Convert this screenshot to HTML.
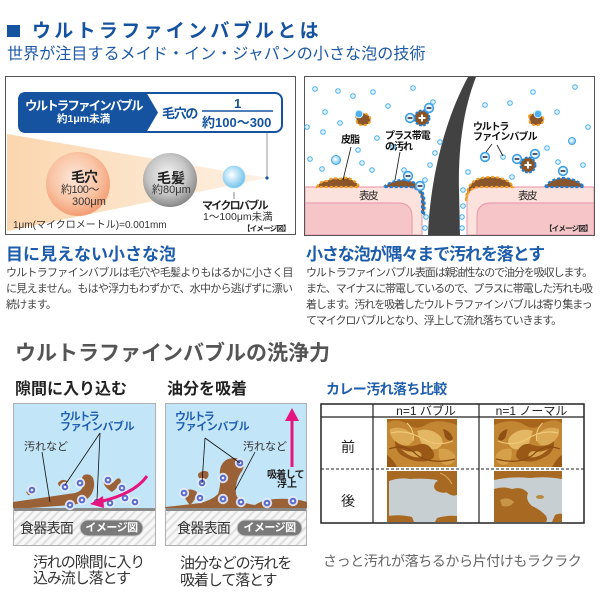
<!DOCTYPE html>
<html><head><meta charset="utf-8">
<style>
html,body{margin:0;padding:0;background:#fff;}
body{width:600px;height:600px;position:relative;overflow:hidden;font-family:"Liberation Sans","Noto Sans CJK JP",sans-serif;}
.t{position:absolute;white-space:nowrap;line-height:1;}
.b{font-weight:bold;}
</style></head><body>
<svg width="600" height="600" viewBox="0 0 600 600" style="position:absolute;left:0;top:0">
<defs>
 <radialGradient id="gPore" cx="45%" cy="40%" r="62%">
  <stop offset="0" stop-color="#fde8da"/><stop offset="0.6" stop-color="#f9c4a4"/><stop offset="1" stop-color="#f29a70"/>
 </radialGradient>
 <radialGradient id="gHair" cx="45%" cy="40%" r="62%">
  <stop offset="0" stop-color="#f4f4f4"/><stop offset="0.6" stop-color="#c4c4c4"/><stop offset="1" stop-color="#838383"/>
 </radialGradient>
 <radialGradient id="gMicro" cx="40%" cy="40%" r="62%">
  <stop offset="0" stop-color="#ffffff"/><stop offset="1" stop-color="#72c3ec"/>
 </radialGradient>
 <linearGradient id="gCone" x1="0" x2="1" y1="0" y2="0">
  <stop offset="0" stop-color="#fbd6ae"/><stop offset="1" stop-color="#fef1e4"/>
 </linearGradient>
 <pattern id="hatch" width="6" height="6" patternUnits="userSpaceOnUse" patternTransform="rotate(45)">
  <rect width="6" height="6" fill="#f8f8f8"/><rect width="2.2" height="6" fill="#e0e0e0"/>
 </pattern>
 <g id="bub"><circle r="5.2" fill="#e6ecfc" opacity="0.9"/><circle r="3.3" fill="#5a6ccc"/><circle r="1.3" fill="#eef1ff"/></g>
 <g id="sb"><circle r="2.3" fill="#e2f4fe" stroke="#4cb0ea" stroke-width="1"/></g>
 <g id="mb"><circle r="5.2" fill="#3e9fe4"/><circle r="3.6" fill="#e6f5fe"/><line x1="-2.4" y1="0" x2="2.4" y2="0" stroke="#223" stroke-width="1.5"/></g>
 <g id="pp"><circle r="7.5" fill="#8b5426" stroke="#1f7fd6" stroke-width="2" stroke-dasharray="2.5 1.5"/><line x1="-3.5" y1="0" x2="3.5" y2="0" stroke="#fff" stroke-width="2"/><line x1="0" y1="-3.5" x2="0" y2="3.5" stroke="#fff" stroke-width="2"/></g>
 <g id="curry">
  <rect x="0" y="0" width="70" height="48" fill="#c38633"/>
  <path d="M0,4 Q10,-2 22,6 Q30,12 40,5 Q52,-1 70,6 L70,0 L0,0 Z" fill="#a8661c"/>
  <path d="M3,10 Q14,6 24,14 Q30,20 22,26 Q12,28 6,20 Q2,15 3,10 Z" fill="#dcaa55"/>
  <path d="M30,12 Q42,8 52,16 Q60,24 50,30 Q40,32 34,24 Z" fill="#e3b763"/>
  <path d="M8,22 Q18,30 30,26 Q40,22 46,32 Q50,40 40,42 Q28,44 18,38 Q8,34 8,22 Z" fill="#9a5816"/>
  <path d="M14,30 Q22,34 30,32 Q36,34 34,38 Q24,40 14,30 Z" fill="#d9a550"/>
  <path d="M52,30 Q62,28 68,36 Q70,44 60,46 Q50,44 52,30 Z" fill="#d6a04a"/>
  <path d="M0,36 Q6,40 10,48 L0,48 Z" fill="#9a5816"/>
  <path d="M56,10 Q64,12 66,20 Q62,24 58,18 Z" fill="#8e5014"/>
  <path d="M4,14 Q20,10 36,20 Q50,28 66,22" stroke="#f0c878" stroke-width="1.2" fill="none"/>
  <path d="M2,30 Q18,24 30,36 Q44,46 68,40" stroke="#8a4c12" stroke-width="1.2" fill="none"/>
  <path d="M20,4 Q28,12 26,22" stroke="#f2cf86" stroke-width="1" fill="none"/>
 </g>
</defs>

<!-- header -->
<rect x="7" y="25" width="13" height="12" fill="#1553a0"/>

<!-- TOP-LEFT PANEL -->
<rect x="5.5" y="76.5" width="290" height="158" fill="#fff" stroke="#555"/>
<polygon points="7,134 267,178 7,231" fill="url(#gCone)"/>
<circle cx="78" cy="184" r="32" fill="url(#gPore)"/>
<circle cx="170" cy="180" r="27" fill="url(#gHair)"/>
<circle cx="234" cy="177" r="11" fill="url(#gMicro)" stroke="#9ad6f2" stroke-width="0.8"/>
<line x1="234" y1="192" x2="234" y2="199" stroke="#888"/>
<line x1="267" y1="133" x2="267" y2="177" stroke="#999"/>
<circle cx="267" cy="178" r="1.6" fill="#1553a0"/>
<rect x="19" y="93" width="263" height="39" rx="7" fill="#fff" stroke="#1553a0" stroke-width="2"/>
<path d="M26,92 L146,92 L158,112.5 L146,133 L26,133 Q18,133 18,125 L18,100 Q18,92 26,92 Z" fill="#1553a0"/>
<line x1="202" y1="111" x2="273" y2="111" stroke="#1553a0" stroke-width="1.5"/>

<!-- TOP-RIGHT PANEL -->
<rect x="304.5" y="76.5" width="290" height="159" fill="#fff" stroke="#555"/>
<path d="M305,187 L408,187 Q422,187 422,201 L422,235 L305,235 Z" fill="#fbe2dc" stroke="#eba2b4" stroke-width="1.2"/>
<path d="M305,203 L398,203 Q412,203 412,217 L412,235 L305,235 Z" fill="#f6c5c8" stroke="#eaa0b2" stroke-width="1.2"/>
<path d="M594,187 L481,187 Q467,187 467,201 L467,235 L594,235 Z" fill="#fbe2dc" stroke="#eba2b4" stroke-width="1.2"/>
<path d="M594,203 L491,203 Q477,203 477,217 L477,235 L594,235 Z" fill="#f6c5c8" stroke="#eaa0b2" stroke-width="1.2"/>
<path d="M468,77 L476,77 C463,110 458,150 459,190 L460,235 L428,235 C430,185 442,125 468,77 Z" fill="#424242"/>
<rect x="304.5" y="76.5" width="290" height="159" fill="none" stroke="#555"/>

<!-- blobs -->
<path d="M317,187 Q320,181 327,181 Q333,177 340,179 Q347,176 352,180 Q357,182 359,187 Z" fill="#8a552a" stroke="#f2a024" stroke-width="2.2" stroke-dasharray="3 2"/>
<path d="M384,187 Q392,180 404,180 Q416,181 421,189 Q426,197 424,214 L422,214 L422,201 Q422,187 408,187 Z" fill="#8a552a" stroke="#1f7fd6" stroke-width="2.2" stroke-dasharray="3 2"/>
<path d="M466,201 Q466,184 478,179 Q492,175 503,179 Q511,182 513,187 L481,187 Q467,187 466,201 Z" fill="#8a552a" stroke="#f2a024" stroke-width="2.2" stroke-dasharray="3 2"/>
<path d="M545,187 Q550,179 563,178 Q578,179 584,187 Z" fill="#8a552a" stroke="#1f7fd6" stroke-width="2.2" stroke-dasharray="3 2"/>
<path d="M356,116 Q362,111 368,115 Q373,120 368,124 Q362,127 357,123 Z" fill="#8a552a" stroke="#f2a024" stroke-width="2" stroke-dasharray="3 2"/>
<path d="M529,116 Q535,111 541,115 Q546,120 541,124 Q535,127 530,123 Z" fill="#8a552a" stroke="#f2a024" stroke-width="2" stroke-dasharray="3 2"/>

<!-- small bubbles -->
<g>
<use href="#sb" x="315" y="89"/><use href="#sb" x="338" y="91"/><use href="#sb" x="353" y="96"/><use href="#sb" x="373" y="92"/>
<use href="#sb" x="325" y="112"/><use href="#sb" x="340" y="123"/><use href="#sb" x="307" y="127"/><use href="#sb" x="323" y="132"/>
<use href="#sb" x="310" y="159"/><use href="#sb" x="362" y="163"/><use href="#sb" x="388" y="106"/><use href="#sb" x="413" y="88"/>
<use href="#sb" x="377" y="138"/><use href="#sb" x="358" y="150"/><use href="#sb" x="372" y="170"/><use href="#sb" x="322" y="169"/>
<use href="#sb" x="433" y="102"/><use href="#sb" x="440" y="142"/><use href="#sb" x="435" y="153"/><use href="#sb" x="430" y="165"/>
<use href="#sb" x="425" y="180"/><use href="#sb" x="426" y="217"/><use href="#sb" x="425" y="228"/><use href="#sb" x="463" y="190"/>
<use href="#sb" x="463" y="206"/><use href="#sb" x="462" y="217"/><use href="#sb" x="462" y="228"/><use href="#sb" x="485" y="105"/>
<use href="#sb" x="510" y="103"/><use href="#sb" x="533" y="92"/><use href="#sb" x="557" y="112"/><use href="#sb" x="575" y="87"/>
<use href="#sb" x="588" y="127"/><use href="#sb" x="547" y="148"/><use href="#sb" x="558" y="162"/><use href="#sb" x="583" y="165"/>
<use href="#sb" x="512" y="177"/><use href="#sb" x="503" y="157"/><use href="#sb" x="468" y="172"/><use href="#sb" x="393" y="147"/><use href="#sb" x="404" y="170"/>
</g>
<circle cx="336" cy="160" r="4.5" fill="url(#gMicro)" stroke="#3fa2e6"/>
<circle cx="572" cy="141" r="3.5" fill="url(#gMicro)" stroke="#3fa2e6"/>
<circle cx="359" cy="114" r="3.8" fill="#4fb0ee" stroke="#cdeefe"/>
<circle cx="538" cy="114" r="3.8" fill="#4fb0ee" stroke="#cdeefe"/>
<use href="#pp" x="422" y="118"/><use href="#pp" x="528" y="165"/>
<use href="#mb" x="410" y="118"/><use href="#mb" x="429" y="108"/><use href="#mb" x="408" y="176"/><use href="#mb" x="420" y="186"/>
<use href="#mb" x="517" y="159"/><use href="#mb" x="535" y="154"/><use href="#mb" x="563" y="171"/><use href="#mb" x="485" y="157"/>
<g stroke="#111" stroke-width="0.8">
<line x1="351" y1="147" x2="343" y2="180"/>
<line x1="400" y1="152" x2="395" y2="180"/>
<line x1="492" y1="144" x2="486" y2="152"/>
<line x1="497" y1="145" x2="503" y2="156"/>
</g>

<!-- BOTTOM BOXES -->
<rect x="13" y="403" width="143" height="105" fill="#c3e5f8"/>
<rect x="13" y="511" width="143" height="35" fill="url(#hatch)"/>
<rect x="13" y="508" width="143" height="3" fill="#8a8a8a"/>
<rect x="13.5" y="403.5" width="142" height="142" fill="none" stroke="#b0b0b0"/>
<rect x="165" y="403" width="142" height="105" fill="#c3e5f8"/>
<rect x="165" y="511" width="142" height="35" fill="url(#hatch)"/>
<rect x="165" y="508" width="142" height="3" fill="#8a8a8a"/>
<rect x="165.5" y="403.5" width="141" height="142" fill="none" stroke="#b0b0b0"/>

<!-- box1 dirt -->
<path d="M13,502 L75,493 Q82,491 83,486 Q80,478 84,475 Q90,473 93,478 Q96,486 91,495 Q85,503 72,505 L30,508 L13,508 Z" fill="#9b6136"/>
<path d="M58,483 Q62,478 67,481 Q68,486 63,487 Q58,487 58,483 Z" fill="#9b6136"/>
<path d="M26,492 Q30,488 34,491 Q33,496 28,495 Z" fill="#9b6136"/>
<path d="M113,483 Q108,476 104,480 Q102,486 112,492 Q120,486 121,481 Q119,475 113,483 Z" fill="#9b6136"/>
<use href="#bub" x="32" y="490"/><use href="#bub" x="65" y="487"/><use href="#bub" x="80" y="483"/><use href="#bub" x="108" y="480"/>
<use href="#bub" x="122" y="488"/><use href="#bub" x="82" y="500"/><use href="#bub" x="70" y="505"/><use href="#bub" x="97" y="502"/>
<use href="#bub" x="110" y="503"/><use href="#bub" x="125" y="498"/><use href="#bub" x="135" y="502"/>
<path d="M147,476 Q135,493 103,501" stroke="#e5157f" stroke-width="3" fill="none"/>
<polygon points="90,504 103,496 104,508" fill="#e5157f"/>
<g stroke="#111" stroke-width="0.8">
<line x1="100" y1="433" x2="65" y2="485"/>
<line x1="100" y1="433" x2="97" y2="500"/>
<line x1="42" y1="452" x2="50" y2="502"/>
</g>

<!-- box2 dirt -->
<path d="M165,507 Q185,505 200,503 Q212,500 218,494 Q221,485 220,475 Q219,465 226,460 Q234,456 243,460 Q246,466 240,474 Q235,483 236,494 Q238,503 255,505 Q262,500 275,499 Q295,498 307,502 L307,508 L165,508 Z" fill="#9b6136"/>
<path d="M198,474 Q203,469 208,472 Q210,478 204,480 Q198,480 198,474 Z" fill="#9b6136"/>
<path d="M183,492 Q190,487 197,492 Q196,500 190,505 Q185,500 183,492 Z" fill="#9b6136"/>
<use href="#bub" x="240" y="463"/><use href="#bub" x="223" y="478"/><use href="#bub" x="202" y="483"/><use href="#bub" x="184" y="493"/>
<use href="#bub" x="200" y="498"/><use href="#bub" x="223" y="499"/><use href="#bub" x="241" y="502"/><use href="#bub" x="267" y="503"/><use href="#bub" x="293" y="501"/>
<line x1="292" y1="467" x2="292" y2="419" stroke="#e5157f" stroke-width="3"/>
<polygon points="292,408 285,421 299,421" fill="#e5157f"/>
<g stroke="#111" stroke-width="0.8">
<line x1="205" y1="438" x2="202" y2="483"/>
<line x1="205" y1="438" x2="240" y2="463"/>
<line x1="255" y1="452" x2="235" y2="490"/>
</g>

<!-- pills -->
<rect x="80" y="520" width="63" height="16" rx="8" fill="#7a7a7a" stroke="#cfcfcf"/>
<rect x="237" y="520" width="65" height="16" rx="8" fill="#7a7a7a" stroke="#cfcfcf"/>

<!-- TABLE -->
<rect x="321" y="404" width="263" height="119" fill="#fff"/>
<use href="#curry" x="387" y="419"/>
<use href="#curry" transform="translate(494,419) scale(0.971,1) translate(70,0) scale(-1,1)"/>
<!-- after bubble -->
<rect x="387" y="471" width="70" height="51" fill="#c7cfd3"/>
<path d="M387,471 H457 V495 Q452,497 446,492 Q440,487 437,480 Q425,478 410,479 Q398,477 387,482 Z" fill="#a86a22"/>
<path d="M437,481 Q431,487 437,491 Q443,494 447,492 Q444,488 437,481 Z" fill="#a86a22"/>
<path d="M440,473 Q448,476 452,484" stroke="#d8a550" stroke-width="1.2" fill="none"/>
<path d="M387,516 Q400,514 412,517 L414,522 H387 Z" fill="#a86a22"/>
<path d="M437,518 Q447,515 457,516 V522 H435 Z" fill="#a86a22"/>
<rect x="387" y="471" width="2" height="51" fill="#a86a22"/>
<!-- after normal -->
<rect x="494" y="471" width="68" height="51" fill="#c7cfd3"/>
<path d="M494,471 H562 V479 Q545,476 530,478 Q512,476 494,480 Z" fill="#a86a22"/>
<path d="M494,489 Q503,486 512,489 Q522,486 528,493 Q525,500 532,506 Q541,510 546,516 Q548,520 546,522 H494 Z" fill="#a86a22"/>
<path d="M500,500 Q508,496 514,502 Q510,508 502,506 Z" fill="#c99445"/>
<ellipse cx="540" cy="497" rx="4" ry="2" fill="#b88a40"/>
<path d="M555,515 Q560,513 562,514 V522 H552 Z" fill="#a86a22"/>
<!-- table lines -->
<rect x="321" y="404" width="263" height="119" fill="none" stroke="#222" stroke-width="1.5"/>
<line x1="321" y1="417" x2="584" y2="417" stroke="#222" stroke-width="1.2"/>
<line x1="373" y1="404" x2="373" y2="523" stroke="#222" stroke-width="1.2"/>
<line x1="479" y1="404" x2="479" y2="523" stroke="#222" stroke-width="1.2"/>
<line x1="321" y1="469" x2="584" y2="469" stroke="#222" stroke-width="1" stroke-dasharray="3 2"/>
</svg>

<!-- HEADER TEXT -->
<div class="t b" style="left:32px;top:22px;font-size:19px;letter-spacing:3.3px;color:#1553a0;">ウルトラファインバブルとは</div>
<div class="t" style="left:7px;top:47px;font-size:16px;letter-spacing:0.1px;color:#1f5aa6;">世界が注目するメイド・イン・ジャパンの小さな泡の技術</div>

<!-- TOP-LEFT TEXT -->
<div class="t b" style="left:25px;top:99.5px;font-size:12.5px;letter-spacing:-1.9px;color:#fff;">ウルトラファインバブル</div>
<div class="t b" style="left:57px;top:114px;font-size:10.5px;color:#fff;">約1μm未満</div>
<div class="t b" style="left:162px;top:106.5px;font-size:13px;letter-spacing:-1.3px;color:#1553a0;">毛穴の</div>
<div class="t b" style="left:234px;top:96.5px;font-size:13px;color:#1553a0;">1</div>
<div class="t b" style="left:202px;top:115.5px;font-size:13px;color:#1553a0;">約100～300</div>
<div class="t b" style="left:71px;top:170px;font-size:14px;letter-spacing:-1px;color:#222;">毛穴</div>
<div class="t" style="left:61px;top:184.5px;font-size:11px;letter-spacing:-0.5px;color:#333;">約100～</div>
<div class="t" style="left:72px;top:196.5px;font-size:11px;color:#333;">300μm</div>
<div class="t b" style="left:157px;top:171px;font-size:14px;color:#222;">毛髪</div>
<div class="t" style="left:152px;top:184.5px;font-size:11px;color:#333;">約80μm</div>
<div class="t b" style="left:202px;top:200.5px;font-size:11px;letter-spacing:-1.7px;color:#222;">マイクロバブル</div>
<div class="t" style="left:203px;top:211.5px;font-size:10.5px;color:#333;">1～100μm未満</div>
<div class="t" style="left:13px;top:221px;font-size:10px;color:#333;">1μm(マイクロメートル)=0.001mm</div>
<div class="t b" style="left:243px;top:224.5px;font-size:7.5px;letter-spacing:-0.8px;color:#222;">【イメージ図】</div>

<!-- TOP-RIGHT TEXT -->
<div class="t b" style="left:341px;top:136px;font-size:10px;letter-spacing:-1px;color:#111;">皮脂</div>
<div class="t b" style="left:385px;top:132px;font-size:10px;letter-spacing:-1px;color:#111;">プラス帯電</div>
<div class="t b" style="left:385px;top:143px;font-size:10px;letter-spacing:-1px;color:#111;">の汚れ</div>
<div class="t b" style="left:473px;top:123px;font-size:10px;letter-spacing:-1.2px;color:#111;">ウルトラ</div>
<div class="t b" style="left:473px;top:133px;font-size:10px;letter-spacing:-0.9px;color:#111;">ファインバブル</div>
<div class="t" style="left:359px;top:190.5px;font-size:10.5px;letter-spacing:-1.5px;color:#222;">表皮</div>
<div class="t" style="left:518px;top:190.5px;font-size:10.5px;letter-spacing:-1.5px;color:#222;">表皮</div>
<div class="t b" style="left:545px;top:224.5px;font-size:7.5px;letter-spacing:-0.8px;color:#222;">【イメージ図】</div>

<!-- MIDDLE TEXT -->
<div class="t b" style="left:6px;top:245.5px;font-size:17px;color:#1e5dab;">目に見えない小さな泡</div>
<div class="t" style="left:6px;top:268px;font-size:11px;letter-spacing:-0.75px;color:#444;">ウルトラファインバブルは毛穴や毛髪よりもはるかに小さく目</div>
<div class="t" style="left:6px;top:284px;font-size:11px;letter-spacing:-0.75px;color:#444;">に見えません。もはや浮力もわずかで、水中から逃げずに漂い</div>
<div class="t" style="left:6px;top:300px;font-size:11px;letter-spacing:-0.75px;color:#444;">続けます。</div>
<div class="t b" style="left:306px;top:245.5px;font-size:17px;letter-spacing:-1.1px;color:#1e5dab;">小さな泡が隅々まで汚れを落とす</div>
<div class="t" style="left:306px;top:268px;font-size:11px;letter-spacing:-1.1px;color:#444;">ウルトラファインバブル表面は親油性なので油分を吸収します。</div>
<div class="t" style="left:306px;top:284px;font-size:11px;letter-spacing:-1.1px;color:#444;">また、マイナスに帯電しているので、プラスに帯電した汚れも吸</div>
<div class="t" style="left:306px;top:300px;font-size:11px;letter-spacing:-1.1px;color:#444;">着します。汚れを吸着したウルトラファインバブルは寄り集まっ</div>
<div class="t" style="left:306px;top:316px;font-size:11px;letter-spacing:-1.1px;color:#444;">てマイクロバブルとなり、浮上して流れ落ちていきます。</div>

<!-- BOTTOM TEXT -->
<div class="t b" style="left:15px;top:343px;font-size:21px;color:#555;">ウルトラファインバブルの洗浄力</div>
<div class="t b" style="left:15px;top:382px;font-size:16px;color:#222;">隙間に入り込む</div>
<div class="t b" style="left:167px;top:382px;font-size:16px;color:#222;">油分を吸着</div>

<div class="t b" style="left:60px;top:411.5px;font-size:11px;letter-spacing:-1.4px;color:#1f5fb0;">ウルトラ</div>
<div class="t b" style="left:60px;top:421.5px;font-size:11px;letter-spacing:-0.4px;color:#1f5fb0;">ファインバブル</div>
<div class="t" style="left:24px;top:441.5px;font-size:11px;color:#333;">汚れなど</div>
<div class="t b" style="left:175px;top:411.5px;font-size:11px;letter-spacing:-1.4px;color:#1f5fb0;">ウルトラ</div>
<div class="t b" style="left:175px;top:421.5px;font-size:11px;letter-spacing:-0.4px;color:#1f5fb0;">ファインバブル</div>
<div class="t" style="left:243px;top:441.5px;font-size:11px;color:#333;">汚れなど</div>
<div class="t b" style="left:267px;top:471px;font-size:10px;letter-spacing:-0.7px;color:#222;">吸着して</div>
<div class="t b" style="left:277px;top:480px;font-size:10px;color:#222;">浮上</div>

<div class="t" style="left:20px;top:521px;font-size:14px;letter-spacing:-0.7px;color:#333;">食器表面</div>
<div class="t b" style="left:80px;top:522.5px;width:63px;text-align:center;font-size:11px;letter-spacing:-0.5px;color:#fff;">イメージ図</div>
<div class="t" style="left:177px;top:521px;font-size:14px;letter-spacing:-0.7px;color:#333;">食器表面</div>
<div class="t b" style="left:237px;top:522.5px;width:65px;text-align:center;font-size:11px;letter-spacing:-0.5px;color:#fff;">イメージ図</div>

<div class="t" style="left:33px;top:554.5px;font-size:15px;letter-spacing:-1.1px;color:#333;">汚れの隙間に入り</div>
<div class="t" style="left:33px;top:570.5px;font-size:15px;letter-spacing:-1.1px;color:#333;">込み流し落とす</div>
<div class="t" style="left:180px;top:555.5px;font-size:15px;letter-spacing:-1.1px;color:#333;">油分などの汚れを</div>
<div class="t" style="left:180px;top:572.5px;font-size:15px;letter-spacing:-1.1px;color:#333;">吸着して落とす</div>

<div class="t b" style="left:326px;top:382px;font-size:14px;letter-spacing:-0.6px;color:#1f5fae;">カレー汚れ落ち比較</div>
<div class="t" style="left:373px;top:405px;width:106px;text-align:center;font-size:12px;color:#222;">n=1 バブル</div>
<div class="t" style="left:479px;top:405px;width:105px;text-align:center;font-size:12px;color:#222;">n=1 ノーマル</div>
<div class="t" style="left:341px;top:440px;font-size:14px;color:#222;">前</div>
<div class="t" style="left:341px;top:494px;font-size:14px;color:#222;">後</div>
<div class="t" style="left:323px;top:554px;font-size:14px;letter-spacing:-0.4px;color:#666;">さっと汚れが落ちるから片付けもラクラク</div>
</body></html>
